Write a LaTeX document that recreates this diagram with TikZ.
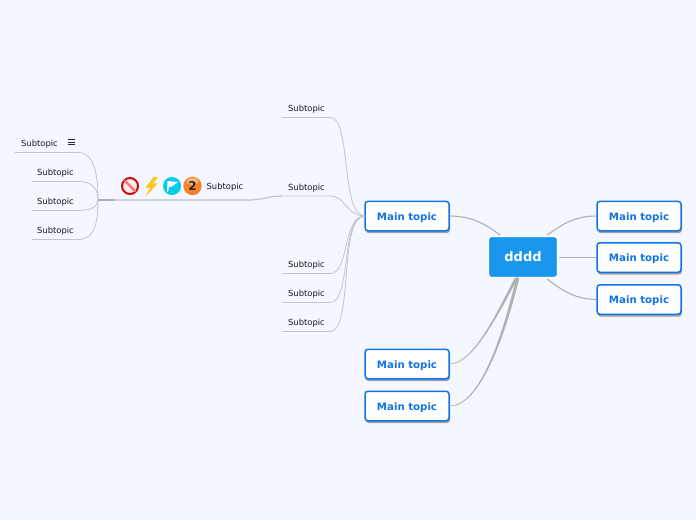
\documentclass[tikz,border=0pt]{standalone}
\usepackage{fontspec}
\setmainfont{DejaVu Sans}
\usetikzlibrary{calc}
\definecolor{bgc}{RGB}{244,247,255}
\definecolor{mainblue}{RGB}{16,116,230}
\definecolor{rootblue}{RGB}{26,151,236}
\definecolor{linegray}{RGB}{176,176,176}
\definecolor{sublinegray}{RGB}{196,196,200}
\definecolor{subtext}{RGB}{25,25,30}
\definecolor{flagcyan}{RGB}{0,205,232}
\definecolor{ballorange}{RGB}{248,130,40}
\tikzset{
  x=1pt,y=-1pt,
  mainbox/.style={draw=mainblue,line width=1.5pt,fill=white,rounded corners=3pt,minimum width=84pt,minimum height=29.5pt,inner sep=0pt,text depth=0pt,text=mainblue,font=\fontsize{10.2}{12}\selectfont\bfseries},
  rootbox/.style={draw=white,line width=1.2pt,fill=rootblue,rounded corners=3pt,minimum width=69pt,minimum height=41pt,inner sep=0pt,text=white,font=\fontsize{13}{15}\selectfont\bfseries},
  subtopic/.style={inner sep=0pt,text depth=0pt,text=subtext,font=\fontsize{8.4}{10}\selectfont},
  conn/.style={draw=linegray,line width=1.1pt},
  subline/.style={draw=sublinegray,line width=0.8pt},
  shadowbox/.style={fill=black!60,rounded corners=3pt,opacity=0.6,draw=none},
}
\begin{document}
\begin{tikzpicture}
\useasboundingbox (0,0) rectangle (696,520);
\fill[bgc] (0,0) rectangle (696,520);

% shadows
\foreach \yy in {216,257.5,299.5}{\fill[shadowbox] (597.5,\yy-13.5) rectangle (682,\yy+17);}
\foreach \yy in {216,364,406}{\fill[shadowbox] (365.5,\yy-13.5) rectangle (450,\yy+17);}

% anchors
\coordinate (rt1) at (500,235);
\coordinate (rt2) at (547,235);
\coordinate (rt3) at (559,257.5);
\coordinate (rt4) at (547,279);
\coordinate (hub) at (365,216);
\coordinate (c1) at (330,117.5);
\coordinate (c2) at (330,196);
\coordinate (c3) at (330,273.5);
\coordinate (c4) at (330,302.5);
\coordinate (c5) at (330,331.5);
\coordinate (e1) at (282,117.5);
\coordinate (e2) at (282,196);
\coordinate (e3) at (282,273.5);
\coordinate (e4) at (282,302.5);
\coordinate (e5) at (282,331.5);
\coordinate (fan) at (98,200);
\coordinate (fan2) at (115,200);
\coordinate (bend) at (248,200);
\coordinate (ss1) at (15,152.5);
\coordinate (ss2) at (32,181.5);
\coordinate (ss3) at (32,210.5);
\coordinate (ss4) at (32,239.5);

% nodes
\node[rootbox] (root) at (523,257) {dddd};
\node[mainbox] (m1) at (639,216) {\raisebox{-0.5pt}{Main topic}};
\node[mainbox] (m2) at (639,257.5) {\raisebox{-0.5pt}{Main topic}};
\node[mainbox] (m3) at (639,299.5) {\raisebox{-0.5pt}{Main topic}};
\node[mainbox] (m4) at (407,216) {\raisebox{-0.5pt}{Main topic}};
\node[mainbox] (m5) at (407,364) {\raisebox{-0.5pt}{Main topic}};
\node[mainbox] (m6) at (407,406) {\raisebox{-0.5pt}{Main topic}};

\node[subtopic] (s1) at (306.5,108) {Subtopic};
\node[subtopic] (s2) at (306.5,187) {Subtopic};
\node[subtopic] (s3) at (306.5,264) {Subtopic};
\node[subtopic] (s4) at (306.5,293) {Subtopic};
\node[subtopic] (s5) at (306.5,322) {Subtopic};
\node[subtopic] (t0) at (225,186) {Subtopic};
\node[subtopic] (t1) at (39.5,143) {Subtopic};
\node[subtopic] (t2) at (55.5,172) {Subtopic};
\node[subtopic] (t3) at (55.5,201) {Subtopic};
\node[subtopic] (t4) at (55.5,230) {Subtopic};

% main connectors
\draw[conn] (m4.east) .. controls (472,216) and (487,225) .. (rt1);
\draw[conn] (m1.west) .. controls (574,216) and (562,225) .. (rt2);
\draw[conn] (m2.west) -- (rt3);
\draw[conn] (m3.west) .. controls (574,299) and (562,290) .. (rt4);
% tapered connectors to the root
\filldraw[draw=linegray,fill=linegray,line width=0.6pt,line join=round] (m5.east) .. controls (474,364) and (499.5,308) .. (515,278) -- (517.5,278) .. controls (501,308) and (474,364.2) .. (m5.east) -- cycle;
\filldraw[draw=linegray,fill=linegray,line width=0.6pt,line join=round] (m6.east) .. controls (478,406) and (500.5,345) .. (516.5,278) -- (519,278) .. controls (502.5,345) and (478,406.2) .. (m6.east) -- cycle;

% subtopic connectors
\draw[subline] (e1) -- (c1) .. controls (352,117.5) and (340,216) .. (hub);
\draw[subline] (e2) -- (c2) .. controls (346,196) and (346,216) .. (hub);
\draw[subline] (e3) -- (c3) .. controls (350,273.5) and (342,216) .. (hub);
\draw[subline] (e4) -- (c4) .. controls (352,302.5) and (340,216) .. (hub);
\draw[subline] (e5) -- (c5) .. controls (354,331.5) and (338,216) .. (hub);
\draw[draw=sublinegray,line width=1.2pt] (e2) .. controls (268,196) and (264,200) .. (bend) -- (fan2);
\draw[draw=linegray,line width=1.3pt] (fan2) -- (fan);

\draw[subline] (ss1) -- (78,152.5) .. controls (96,152.5) and (98,180) .. (fan);
\draw[subline] (ss2) -- (78,181.5) .. controls (92,181.5) and (98,188) .. (fan);
\draw[subline] (ss3) -- (78,210.5) .. controls (92,210.5) and (98,206) .. (fan);
\draw[subline] (ss4) -- (78,239.5) .. controls (96,239.5) and (98,220) .. (fan);

% hamburger icon
\foreach \yy in {139.5,142,144.5}{\draw[black!85,line width=1pt] (67.5,\yy) -- (74.5,\yy);}

% no-entry icon
\draw[red!80!black,fill=red!8,line width=1.9pt] (130,186) circle (8);
\draw[red!55!white,line width=2.2pt] (124.4,180.4) -- (135.6,191.6);
% lightning
\fill[yellow!55!orange!90!white,draw=orange!50!yellow,line width=0.4pt] (154,177) -- (146,187.5) -- (151,187) -- (146.5,195) -- (157,183.5) -- (152,184) -- (157.5,177.5) -- cycle;
% flag
\fill[flagcyan] (172,186) circle (9);
\fill[white] (167.5,181) -- (178,182) -- (172,186.5) -- (169,187) -- (168,192) -- (167,192) -- cycle;
% number two
\fill[ballorange] (192.5,186) circle (9.2);
\fill[orange!40!white,opacity=.7] (192.5,181.5) ellipse (6 and 3.5);
\node[inner sep=0pt,text=black!85,font=\fontsize{12}{13}\selectfont\bfseries] (two) at (192.5,186) {2};
\end{tikzpicture}
\end{document}
